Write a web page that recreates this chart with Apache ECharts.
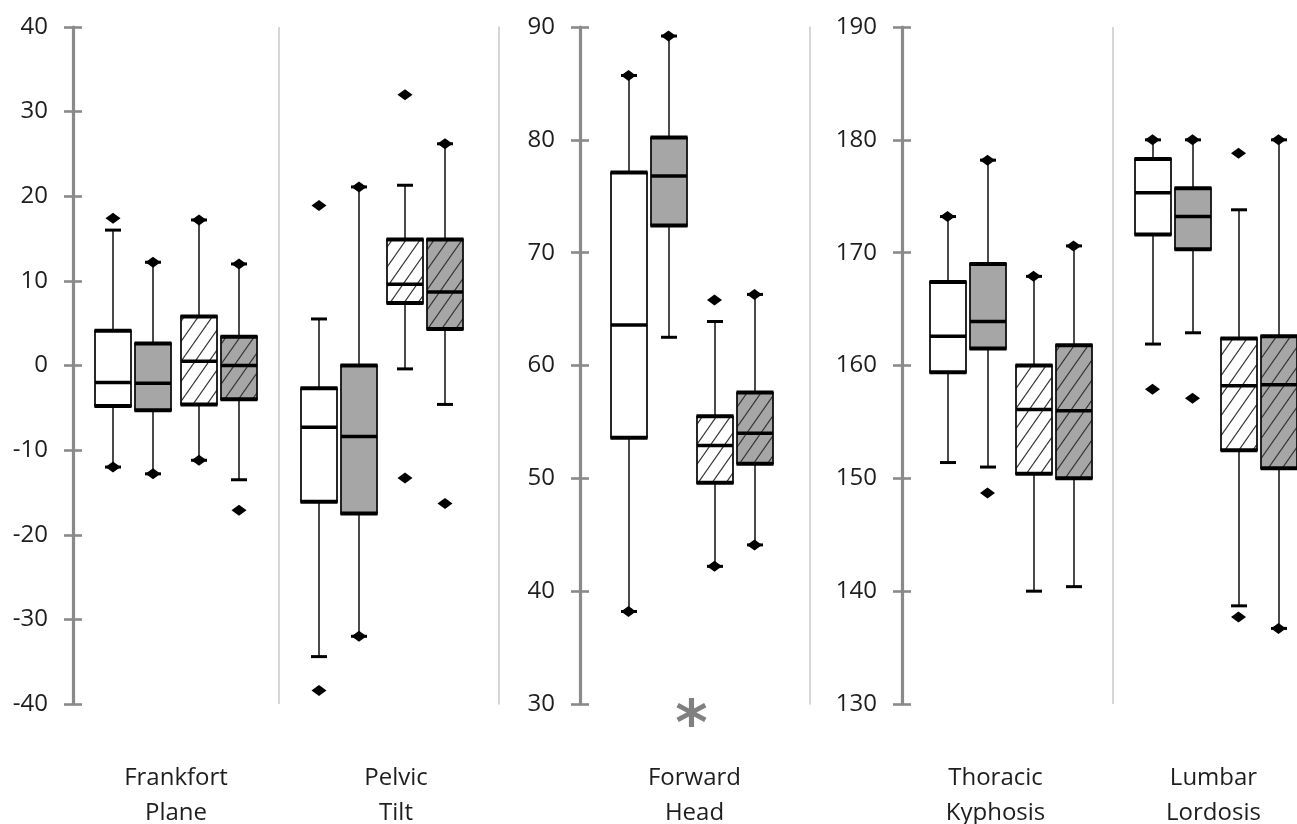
<!DOCTYPE html>
<html>
<head>
<meta charset="utf-8">
<script src="https://cdn.jsdelivr.net/npm/echarts@6/dist/echarts.min.js"></script>
<style>html,body{margin:0;padding:0;background:#fff}#c{width:1297px;height:824px}</style>
</head>
<body>
<div id="c"></div>
<script>
// ---------- DATA ----------
const groupNames = ['Group 1', 'Group 2', 'Group 3', 'Group 4'];

// Panel A
const catsA = ['Frankfort\nPlane', 'Pelvic\nTilt'];
const yTicksA = [-40, -30, -20, -10, 0, 10, 20, 30, 40];
// [whisker low, Q1, median, Q3, whisker high] per category
const boxA1 = [[-12.0, -4.8, -2.0, 4.1, 16.0], [-34.4, -16.1, -7.3, -2.7, 5.5]];
const boxA2 = [[-12.8, -5.3, -2.1, 2.6, 12.2], [-32.0, -17.5, -8.4, 0.0, 21.1]];
const boxA3 = [[-11.2, -4.6, 0.5, 5.8, 17.2], [-0.4, 7.4, 9.6, 14.9, 21.3]];
const boxA4 = [[-13.5, -4.0, 0.0, 3.4, 12.0], [-4.6, 4.3, 8.7, 14.9, 26.2]];
// extreme points (diamonds) per category
const dotA1 = [[17.4, -12.0], [18.9, -38.4]];
const dotA2 = [[12.2, -12.8], [21.1, -32.0]];
const dotA3 = [[17.2, -11.2], [32.0, -13.3]];
const dotA4 = [[12.0, -17.1], [26.2, -16.3]];

// Panel B
const catsB = ['Forward\nHead'];
const yTicksB = [30, 40, 50, 60, 70, 80, 90];
const boxB1 = [[38.2, 53.6, 63.6, 77.1, 85.7]];
const boxB2 = [[62.5, 72.4, 76.8, 80.2, 89.2]];
const boxB3 = [[42.2, 49.6, 52.9, 55.5, 63.9]];
const boxB4 = [[44.1, 51.3, 54.0, 57.6, 66.3]];
const dotB1 = [[85.7, 38.2]];
const dotB2 = [[89.2]];
const dotB3 = [[65.8, 42.2]];
const dotB4 = [[66.3, 44.1]];
const markB = '*';

// Panel C
const catsC = ['Thoracic\nKyphosis', 'Lumbar\nLordosis'];
const yTicksC = [130, 140, 150, 160, 170, 180, 190];
const boxC1 = [[151.4, 159.4, 162.6, 167.4, 173.2], [161.9, 171.6, 175.3, 178.3, 180.0]];
const boxC2 = [[151.0, 161.5, 163.9, 169.0, 178.2], [162.9, 170.3, 173.2, 175.7, 180.0]];
const boxC3 = [[140.0, 150.4, 156.1, 160.0, 167.9], [138.7, 152.5, 158.2, 162.4, 173.8]];
const boxC4 = [[140.4, 150.0, 156.0, 161.8, 170.6], [136.7, 150.9, 158.3, 162.6, 180.0]];
const dotC1 = [[173.2], [180.0, 157.9]];
const dotC2 = [[178.2, 148.7], [180.0, 157.1]];
const dotC3 = [[167.9], [178.8, 137.7]];
const dotC4 = [[170.6], [180.0, 136.7]];

// ---------- STYLE ----------
const OFFSETS = [-63, -23, 23, 63];
const BOX_W = 36, CAP_W = 16;
const AXIS_GRAY = '#8a8a8a', SEP_GRAY = '#c9c9c9', TEXT = '#1e1e1e';
const FONT = "'Open Sans', 'DejaVu Sans', sans-serif";

function hatch(bg) {
  const w = 14, h = 20;
  const c = document.createElement('canvas');
  c.width = w; c.height = h;
  const g = c.getContext('2d');
  g.fillStyle = bg; g.fillRect(0, 0, w, h);
  g.strokeStyle = '#333'; g.lineWidth = 1.2;
  for (const dx of [-w, 0, w]) {
    g.beginPath(); g.moveTo(dx - 2, h + 2 * h / w); g.lineTo(dx + w + 2, -2 * h / w); g.stroke();
  }
  return { image: c, repeat: 'repeat' };
}
const FILLS = ['#ffffff', '#a6a6a6', hatch('#ffffff'), hatch('#a6a6a6')];

function boxRender(offset, fill) {
  return function (params, api) {
    const cat = api.value(0);
    const xc = Math.round(api.coord([cat, api.value(3)])[0] + offset);
    const y = i => api.coord([cat, api.value(i)])[1];
    const yLow = y(1), yQ1 = y(2), yMed = y(3), yQ3 = y(4), yHigh = y(5);
    const hw = BOX_W / 2, cw = CAP_W / 2;
    const hl = (yy, half, lw, col) => ({ type: 'line', shape: { x1: xc - half, y1: yy, x2: xc + half, y2: yy }, style: { stroke: col, lineWidth: lw } });
    return {
      type: 'group',
      children: [
        { type: 'line', shape: { x1: xc, y1: yHigh, x2: xc, y2: yQ3 }, style: { stroke: '#4a4a4a', lineWidth: 2 } },
        { type: 'line', shape: { x1: xc, y1: yQ1, x2: xc, y2: yLow }, style: { stroke: '#4a4a4a', lineWidth: 2 } },
        hl(yHigh, cw, 3, '#000'),
        hl(yLow, cw, 3, '#000'),
        { type: 'rect', shape: { x: xc - hw, y: yQ3, width: BOX_W, height: yQ1 - yQ3 }, style: { fill: fill, stroke: '#111', lineWidth: 1.8 } },
        hl(yQ3, hw + 0.5, 4, '#000'),
        hl(yQ1, hw + 0.5, 4, '#000'),
        hl(yMed, hw, 3.5, '#000')
      ]
    };
  };
}

const panels = [
  { cats: catsA, ticks: yTicksA, boxes: [boxA1, boxA2, boxA3, boxA4], dots: [dotA1, dotA2, dotA3, dotA4],
    grid: { left: 73, top: 27, width: 412, height: 677 }, sepSplit: true, sepRight: 14, labelShift: [0, 14] },
  { cats: catsB, ticks: yTicksB, boxes: [boxB1, boxB2, boxB3, boxB4], dots: [dotB1, dotB2, dotB3, dotB4],
    grid: { left: 580, top: 27, width: 223, height: 677 }, sepSplit: false, sepRight: 7, name: markB, labelShift: [3] },
  { cats: catsC, ticks: yTicksC, boxes: [boxC1, boxC2, boxC3, boxC4], dots: [dotC1, dotC2, dotC3, dotC4],
    grid: { left: 908, top: 27, width: 410, height: 677 }, sepSplit: true, sepRight: null, yOffset: 6, labelShift: [-15, -2] }
];

const grid = [], xAxis = [], yAxis = [], series = [];
panels.forEach((p, gi) => {
  grid.push(Object.assign({ containLabel: false, outerBoundsMode: 'none' }, p.grid));
  const ymin = p.ticks[0], ymax = p.ticks[p.ticks.length - 1], step = p.ticks[1] - p.ticks[0];
  const rich = {};
  p.labelShift.forEach((s, i) => {
    rich['s' + i] = { fontSize: 24, lineHeight: 35, color: TEXT, fontFamily: FONT,
      padding: s >= 0 ? [0, 0, 0, 2 * s] : [0, -2 * s, 0, 0] };
  });
  xAxis.push({
    gridIndex: gi, type: 'category', data: p.cats, boundaryGap: true,
    axisLine: { show: false }, axisTick: { show: false },
    splitLine: { show: p.sepSplit, showMinLine: false, showMaxLine: false, lineStyle: { color: SEP_GRAY, width: 1.5 } },
    axisLabel: {
      fontSize: 24, lineHeight: 35, margin: 57, color: TEXT, fontFamily: FONT, interval: 0,
      formatter: (v, i) => v.split('\n').map(t => '{s' + i + '|' + t + '}').join('\n'),
      rich: rich
    },
    name: p.name || '', nameLocation: 'middle', nameGap: 24, nameMoveOverlap: false,
    nameTextStyle: { fontSize: 62, color: '#808080', fontWeight: 'bold', fontFamily: "'DejaVu Sans', sans-serif", verticalAlign: 'middle' }
  });
  const mainIdx = yAxis.length;
  yAxis.push({
    gridIndex: gi, type: 'value', min: ymin, max: ymax, interval: step, position: 'left', offset: p.yOffset || 0,
    axisLine: { show: true, lineStyle: { color: AXIS_GRAY, width: 3.2 } },
    axisTick: { show: true, length: 9, lineStyle: { color: AXIS_GRAY, width: 2.6 } },
    axisLabel: { margin: 25, fontSize: 24, color: TEXT, fontFamily: FONT },
    splitLine: { show: false }
  });
  yAxis.push({
    gridIndex: gi, type: 'value', min: ymin, max: ymax, interval: step, position: 'left', offset: p.yOffset || 0,
    axisLine: { show: false },
    axisTick: { show: true, inside: true, length: 9, lineStyle: { color: AXIS_GRAY, width: 2.6 } },
    axisLabel: { show: false }, splitLine: { show: false }
  });
  if (p.sepRight !== null) {
    yAxis.push({
      gridIndex: gi, type: 'value', min: ymin, max: ymax, position: 'right', offset: p.sepRight,
      axisLine: { show: true, lineStyle: { color: SEP_GRAY, width: 1.5 } },
      axisTick: { show: false }, axisLabel: { show: false }, splitLine: { show: false }
    });
  }
  p.boxes.forEach((b, k) => {
    series.push({
      name: groupNames[k], type: 'custom', xAxisIndex: gi, yAxisIndex: mainIdx,
      renderItem: boxRender(OFFSETS[k], FILLS[k]), clip: false, z: 2,
      encode: { x: 0, y: [1, 2, 3, 4, 5] },
      data: b.map((v, ci) => [ci].concat(v))
    });
  });
  p.dots.forEach((d, k) => {
    const pts = [];
    d.forEach((vals, ci) => vals.forEach(v => pts.push([ci, v])));
    series.push({
      name: groupNames[k], type: 'scatter', xAxisIndex: gi, yAxisIndex: mainIdx,
      symbol: 'diamond', symbolSize: [15, 11], symbolOffset: [OFFSETS[k], 0],
      itemStyle: { color: '#000', opacity: 1 }, z: 5, silent: true,
      data: pts
    });
  });
});

const chart = echarts.init(document.getElementById('c'), null, { renderer: 'canvas' });
chart.setOption({ animation: false, backgroundColor: '#fff', grid, xAxis, yAxis, series });
</script>
</body>
</html>
